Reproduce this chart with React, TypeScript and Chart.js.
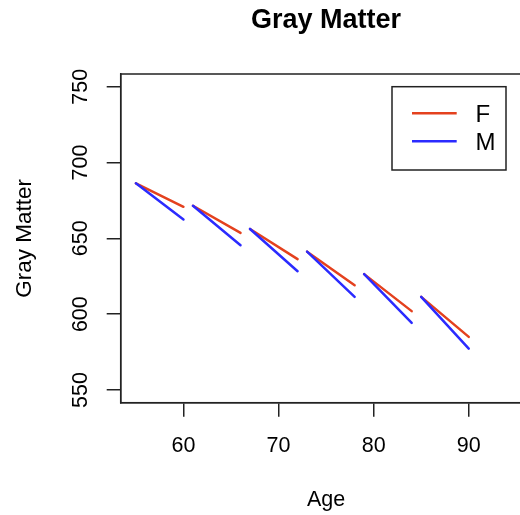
import React, { useEffect, useRef } from "react";
import { Chart, registerables } from "chart.js";

Chart.register(...registerables);

// ---- data ----
const segStartAge = [55, 61, 67, 73, 79, 85];
const segEndAge = [60, 66, 72, 78, 84, 90];
const startValue = [686.3, 671.5, 656.2, 641.2, 626.4, 611.4];
const femaleEnd = [670.8, 653.6, 636.3, 619.1, 602.0, 585.0];
const maleEnd = [662.5, 645.5, 628.3, 611.4, 594.2, 577.3];
const xTicks = [60, 70, 80, 90];
const yTicks = [550, 600, 650, 700, 750];
const seriesNames = ["F", "M"];

const TITLE = "Gray Matter";
const X_LABEL = "Age";
const Y_LABEL = "Gray Matter";

const FONT = "'Liberation Sans', Arial, Helvetica, sans-serif";
const RED = "#E4411E";
const BLUE = "#2B2BFF";
const INK = "#222222";

function segments(ends: number[]) {
  const pts: { x: number; y: number | null }[] = [];
  for (let i = 0; i < segStartAge.length; i++) {
    pts.push({ x: segStartAge[i], y: startValue[i] });
    pts.push({ x: segEndAge[i], y: ends[i] });
    pts.push({ x: segEndAge[i] + 0.5, y: null });
  }
  return pts;
}

const decorPlugin = {
  id: "rdecor",
  afterDraw(chart: any) {
    const { ctx, chartArea } = chart;
    const xs = chart.scales.x;
    const ys = chart.scales.y;
    ctx.save();
    // box
    ctx.strokeStyle = INK;
    ctx.lineWidth = 1.5;
    ctx.strokeRect(chartArea.left, chartArea.top, chartArea.right - chartArea.left, chartArea.bottom - chartArea.top);

    ctx.fillStyle = "#000";
    // x tick labels
    ctx.font = `21.5px ${FONT}`;
    ctx.textAlign = "center";
    ctx.textBaseline = "alphabetic";
    xs.ticks.forEach((t: any) => {
      ctx.fillText(String(t.value), xs.getPixelForValue(t.value), 452);
    });
    // y tick labels (rotated)
    ys.ticks.forEach((t: any) => {
      ctx.save();
      ctx.translate(87.3, ys.getPixelForValue(t.value));
      ctx.rotate(-Math.PI / 2);
      ctx.fillText(String(t.value), 0, 0);
      ctx.restore();
    });
    // title
    const cx = (chartArea.left + chartArea.right) / 2;
    ctx.font = `bold 27px ${FONT}`;
    ctx.fillText(TITLE, cx, 28);
    // x label
    ctx.font = `21.5px ${FONT}`;
    ctx.fillText(X_LABEL, cx, 506);
    // y label
    ctx.save();
    ctx.font = `22.5px ${FONT}`;
    ctx.translate(30.5, (chartArea.top + chartArea.bottom) / 2);
    ctx.rotate(-Math.PI / 2);
    ctx.fillText(Y_LABEL, 0, 0);
    ctx.restore();

    // legend
    ctx.strokeStyle = INK;
    ctx.lineWidth = 1.5;
    ctx.strokeRect(392, 86.7, 114, 83.3);
    const colors = [RED, BLUE];
    const rowY = [113.3, 141.3];
    ctx.font = `24px ${FONT}`;
    ctx.textAlign = "left";
    seriesNames.forEach((name, i) => {
      ctx.strokeStyle = colors[i];
      ctx.lineWidth = 2.5;
      ctx.beginPath();
      ctx.moveTo(412, rowY[i]);
      ctx.lineTo(456.7, rowY[i]);
      ctx.stroke();
      ctx.fillStyle = "#000";
      ctx.fillText(name, 475.5, rowY[i] + 9);
    });
    ctx.restore();
  },
};

export default function App() {
  const ref = useRef<HTMLCanvasElement>(null);
  useEffect(() => {
    if (!ref.current) return;
    const chart = new Chart(ref.current, {
      type: "line",
      data: {
        datasets: [
          {
            label: seriesNames[1],
            data: segments(maleEnd) as any,
            borderColor: BLUE,
            borderWidth: 2.5,
            pointRadius: 0,
            spanGaps: false,
            borderCapStyle: "round",
            tension: 0,
          },
          {
            label: seriesNames[0],
            data: segments(femaleEnd) as any,
            borderColor: RED,
            borderWidth: 2.5,
            pointRadius: 0,
            spanGaps: false,
            borderCapStyle: "round",
            tension: 0,
          },
        ],
      },
      options: {
        animation: false,
        responsive: false,
        devicePixelRatio: 1,
        layout: { padding: { left: 0, top: 74, right: 13.5, bottom: 0 } },
        plugins: { legend: { display: false }, tooltip: { enabled: false }, title: { display: false } },
        scales: {
          x: {
            type: "linear",
            min: 53.4,
            max: 96.6,
            afterBuildTicks: (s: any) => {
              s.ticks = xTicks.map((v) => ({ value: v }));
            },
            afterFit: (s: any) => {
              s.height = 112.3;
            },
            ticks: { display: false },
            grid: { drawOnChartArea: false, drawTicks: true, tickLength: 14, color: INK, lineWidth: 1.5 },
            border: { display: true, color: INK, width: 1.5 },
          },
          y: {
            type: "linear",
            min: 541.6,
            max: 758.4,
            afterBuildTicks: (s: any) => {
              s.ticks = yTicks.map((v) => ({ value: v }));
            },
            afterFit: (s: any) => {
              s.width = 120.7;
            },
            ticks: { display: false },
            grid: { drawOnChartArea: false, drawTicks: true, tickLength: 14, color: INK, lineWidth: 1.5 },
            border: { display: true, color: INK, width: 1.5 },
          },
        },
      },
      plugins: [decorPlugin],
    });
    return () => chart.destroy();
  }, []);
  return (
    <div style={{ position: "fixed", left: 0, top: 0, width: 520, height: 515, overflow: "hidden", background: "#fff" }}>
      <canvas ref={ref} width={545} height={515} style={{ display: "block", width: 545, height: 515 }} />
    </div>
  );
}
